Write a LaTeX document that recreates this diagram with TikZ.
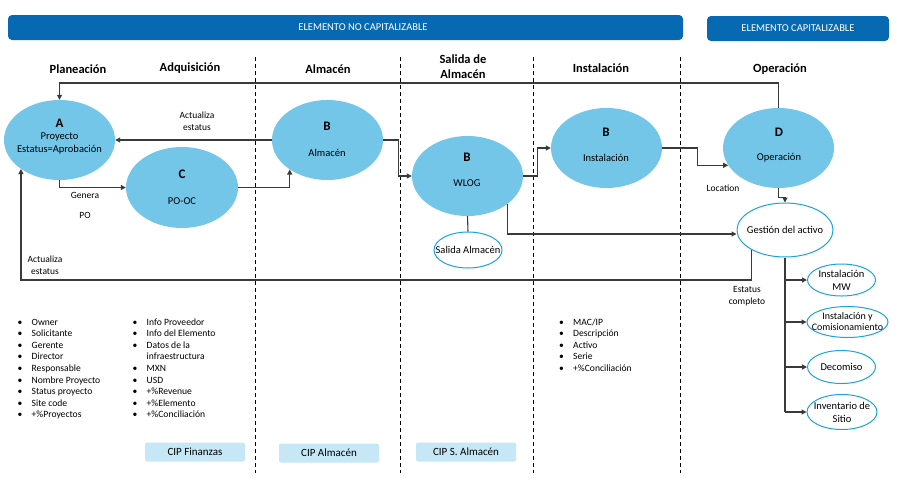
\documentclass[tikz,border=0pt]{standalone}
\usepackage{fontspec}
\setmainfont{Carlito}
\usetikzlibrary{shapes.geometric,arrows.meta,calc}
\definecolor{barblue}{HTML}{0669B2}
\definecolor{ellblue}{HTML}{73C6E8}
\definecolor{cipblue}{HTML}{C5E7F6}
\definecolor{edgeblue}{HTML}{1CA3DE}
\definecolor{linegray}{HTML}{3A3A3A}
\begin{document}
\begin{tikzpicture}[x=1pt,y=-1pt,
  bar/.style={fill=barblue, rounded corners=4pt, draw=none, inner sep=0pt},
  bartext/.style={text=white, font=\fontsize{10.5}{12}\selectfont, inner sep=0pt},
  hdr/.style={font=\bfseries\fontsize{12.5}{15}\selectfont, align=center, inner sep=0pt},
  ell/.style={ellipse, fill=ellblue, draw=none, inner sep=0pt},
  wellipse/.style={ellipse, fill=white, draw=edgeblue, line width=1pt, inner sep=0pt},
  wtext/.style={font=\fontsize{10.5}{13}\selectfont, align=center, inner sep=0pt},
  letter/.style={font=\bfseries\fontsize{13}{15}\selectfont, inner sep=0pt},
  etext/.style={font=\fontsize{10.5}{13}\selectfont, align=center, inner sep=0pt},
  lbl/.style={font=\fontsize{9.5}{12}\selectfont, align=center, inner sep=0pt},
  conn/.style={draw=linegray, line width=1.1pt},
  arr/.style={conn, -{Triangle[length=5pt,width=5pt]}},
  divider/.style={draw=black, dash pattern=on 4pt off 3pt, line width=0.9pt},
  cip/.style={fill=cipblue, rounded corners=2pt, minimum width=100pt, minimum height=19pt, inner sep=0pt, font=\fontsize{11}{13}\selectfont},
  bullets/.style={font=\fontsize{9.6}{11.6}\selectfont, inner sep=0pt, anchor=base west}
]
\useasboundingbox (0,0) rectangle (897,480);
\fill[white] (0,0) rectangle (897,480);

% header bars
\node[bar, minimum width=675pt, minimum height=25pt] (ncbar) at (345.5,27.5) {};
\node[bartext] (nctext) at (363,27.5) {ELEMENTO NO CAPITALIZABLE};
\node[bar, minimum width=182pt, minimum height=25pt] (cbar) at (798,28.5) {};
\node[bartext] (ctext) at (798,28.5) {ELEMENTO CAPITALIZABLE};

% column headers
\node[hdr] (h1) at (78,69) {Planeación};
\node[hdr] (h2) at (190,68) {Adquisición};
\node[hdr] (h3) at (328,69) {Almacén};
\node[hdr] (h4) at (463,67) {Salida de\\Almacén};
\node[hdr] (h5) at (601,68) {Instalación};
\node[hdr] (h6) at (780,69) {Operación};

% dividers
\draw[divider] (255,57) -- (255,473);
\draw[divider] (400,57) -- (400,473);
\draw[divider] (533,57) -- (533,473);
\draw[divider] (680,57) -- (680,473);

% ellipses
\node[ell, minimum width=111pt, minimum height=80pt] (A) at (59.5,140) {};
\node[ell, minimum width=112pt, minimum height=81pt] (C) at (182,187.5) {};
\node[ell, minimum width=111pt, minimum height=80pt] (B1) at (327.5,140) {};
\node[ell, minimum width=111pt, minimum height=80pt] (wlog) at (467.5,176) {};
\node[ell, minimum width=111pt, minimum height=80pt] (inst) at (606.5,148) {};
\node[ell, minimum width=111pt, minimum height=80pt] (D) at (778.5,148) {};

\node[letter] (Al) at (59.5,123) {A};
\node[etext] (At) at (59.5,143.5) {Proyecto\\Estatus=Aprobación};
\node[letter] (Cl) at (182,174) {C};
\node[etext] (Ct) at (182,201) {PO-OC};
\node[letter] (B1l) at (327,126) {B};
\node[etext] (B1t) at (327,153) {Almacén};
\node[letter] (wl) at (467,157) {B};
\node[etext] (wt) at (467,183) {WLOG};
\node[letter] (il) at (606,132) {B};
\node[etext] (it) at (606,158) {Instalación};
\node[letter] (Dl) at (779,132) {D};
\node[etext] (Dt) at (779,158) {Operación};

\node[wellipse, minimum width=68pt, minimum height=36pt, label={[wtext]center:Salida Almacén}] (sal) at (468,250) {};
\node[wellipse, minimum width=96pt, minimum height=54pt, label={[wtext]center:Gestión del activo}] (gest) at (785,230) {};
\node[wellipse, minimum width=68pt, minimum height=32pt, label={[wtext]center:Instalación\\MW}] (mw) at (841.5,280) {};
\node[wellipse, minimum width=81pt, minimum height=31pt, label={[wtext, font=\fontsize{10}{11}\selectfont]center:Instalación y\\Comisionamiento}] (comis) at (847.5,322) {};
\node[wellipse, minimum width=68pt, minimum height=33pt, label={[wtext]center:Decomiso}] (deco) at (841.5,367) {};
\node[wellipse, minimum width=70pt, minimum height=35pt, label={[wtext]center:Inventario de\\Sitio}] (inv) at (842,412) {};

% connectors
\coordinate (topline) at (0,83);
\coordinate (lowline) at (0,280);
\draw[arr] (D.north) |- (A.north |- topline) -- (A.north);
\draw[arr] (B1.west) -- (A.east);
\draw[arr] (A.south) |- (C.west);
\draw[arr] (C.east) -| (B1.218);
\draw[arr] (B1.east) -- ++(15,0) |- (wlog.west);
\draw[arr] (wlog.east) -- ++(14,0) |- (inst.west);
\draw[arr] (inst.east) -- ++(35,0) |- (D.199);
\draw[arr] (D.south) -- ++(0,9) -| (gest.north);
\draw[arr] (wlog.-35) |- ([yshift=-4pt]gest.west);
\draw[conn] (wlog.south) -- (sal.north);
\draw[arr] (gest.211) |- (A.217 |- lowline) -- (A.217);
\draw[conn] (gest.south) -- (gest.south |- inv.west);
\draw[arr] (gest.south |- mw.west) -- (mw.west);
\draw[arr] (gest.south |- comis.west) -- (comis.west);
\draw[arr] (gest.south |- deco.west) -- (deco.west);
\draw[arr] (gest.south |- inv.west) -- (inv.west);

% connector labels
\node[lbl] (l1) at (197,121) {Actualiza\\estatus};
\node[lbl] (l2) at (85,195) {Genera};
\node[lbl] (l3) at (85,215) {PO};
\node[lbl] (l4) at (45,265) {Actualiza\\estatus};
\node[lbl] (l5) at (723,188) {Location};
\node[lbl] (l6) at (747,296) {Estatus\\completo};

% bullet lists
\node[bullets] (list1) at (17.5,325) {\begin{tabular}[t]{@{}p{14pt}@{}l@{}}
•&Owner\\ •&Solicitante\\ •&Gerente\\ •&Director\\ •&Responsable\\ •&Nombre Proyecto\\ •&Status proyecto\\ •&Site code\\ •&+\%Proyectos
\end{tabular}};
\node[bullets] (list2) at (132.5,325) {\begin{tabular}[t]{@{}p{14pt}@{}l@{}}
•&Info Proveedor\\ •&Info del Elemento\\ •&Datos de la\\ &infraestructura\\ •&MXN\\ •&USD\\ •&+\%Revenue\\ •&+\%Elemento\\ •&+\%Conciliación
\end{tabular}};
\node[bullets] (list3) at (559,325) {\begin{tabular}[t]{@{}p{14pt}@{}l@{}}
•&MAC/IP\\ •&Descripción\\ •&Activo\\ •&Serie\\ •&+\%Conciliación
\end{tabular}};

% CIP boxes
\node[cip] (cip1) at (195,452) {CIP Finanzas};
\node[cip] (cip2) at (329,453) {CIP Almacén};
\node[cip] (cip3) at (466,452) {CIP S. Almacén};
\end{tikzpicture}
\end{document}
